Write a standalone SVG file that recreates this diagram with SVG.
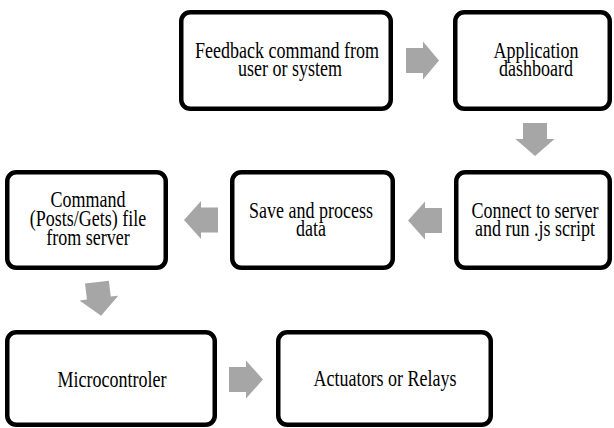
<svg xmlns="http://www.w3.org/2000/svg" width="614" height="428" viewBox="0 0 614 428">
<style>
  .box { fill: #ffffff; stroke: #000000; stroke-width: 4.5; }
  .lbl { font-family: "Liberation Serif", "Times New Roman", serif; font-size: 18px; fill: #000000; text-anchor: middle; }
  .arrow { fill: #a6a6a6; stroke: none; }
</style>
<rect width="614" height="428" fill="#ffffff"/>
<g id="connectors">
  <path class="arrow" d="M406,48 H423 V41.5 L439,60.5 L423,79.5 V73 H406 Z"/>
  <path class="arrow" d="M523,123 H547 V139 H554.5 L535,156 L515.5,139 H523 Z"/>
  <path class="arrow" d="M442,208 H425 V201.5 L408,220.5 L425,239.5 V233 H442 Z"/>
  <path class="arrow" d="M218,207.5 H201 V201 L184,220 L201,239 V232.5 H218 Z"/>
  <path class="arrow" d="M87,282 H111 V298 H118.5 L99,316 L79.5,298 H87 Z" transform="rotate(-7 99 299)"/>
  <path class="arrow" d="M229,367 H246 V360.5 L263,379.5 L246,398.5 V392 H229 Z"/>
</g>
<g id="node-feedback">
  <rect class="box" x="181.25" y="12.25" width="209.5" height="96.5" rx="9"/>
  <text class="lbl" transform="matrix(1 0 0 1.25 287 58)">Feedback command from</text>
  <text class="lbl" transform="matrix(1 0 0 1.25 290 76)">user or system</text>
</g>
<g id="node-application">
  <rect class="box" x="455.25" y="12.25" width="154.5" height="96.5" rx="9"/>
  <text class="lbl" transform="matrix(1 0 0 1.25 536 58)">Application</text>
  <text class="lbl" transform="matrix(1 0 0 1.25 536 76)">dashboard</text>
</g>
<g id="node-connect">
  <rect class="box" x="456.25" y="172.25" width="153.5" height="95.5" rx="9"/>
  <text class="lbl" transform="matrix(1 0 0 1.25 535 218)">Connect to server</text>
  <text class="lbl" transform="matrix(1 0 0 1.25 535 236)">and run .js script</text>
</g>
<g id="node-save">
  <rect class="box" x="232.25" y="172.25" width="160.5" height="95.5" rx="9"/>
  <text class="lbl" transform="matrix(1 0 0 1.25 311 218)">Save and process</text>
  <text class="lbl" transform="matrix(1 0 0 1.25 311 236)">data</text>
</g>
<g id="node-command">
  <rect class="box" x="7.25" y="172.25" width="158.5" height="95.5" rx="9"/>
  <text class="lbl" transform="matrix(1 0 0 1.25 88 207)">Command</text>
  <text class="lbl" transform="matrix(1 0 0 1.25 88 226)">(Posts/Gets) file</text>
  <text class="lbl" transform="matrix(1 0 0 1.25 88 245)">from server</text>
</g>
<g id="node-microcontroler">
  <rect class="box" x="7.25" y="332.25" width="207.5" height="92.5" rx="9"/>
  <text class="lbl" transform="matrix(1 0 0 1.25 112 387)">Microcontroler</text>
</g>
<g id="node-actuators">
  <rect class="box" x="278.25" y="332.25" width="212.5" height="92.5" rx="9"/>
  <text class="lbl" transform="matrix(1 0 0 1.25 385 386)">Actuators or Relays</text>
</g>
</svg>
